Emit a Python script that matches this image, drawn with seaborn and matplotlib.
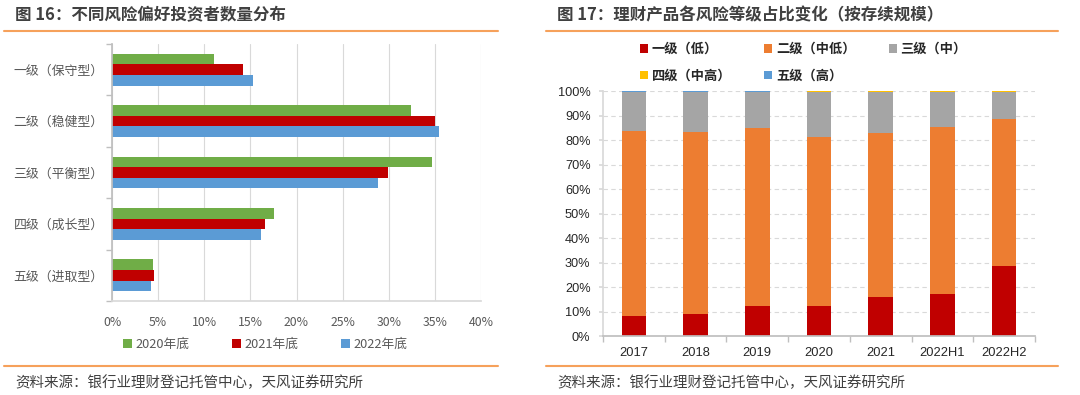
import numpy as np
import pandas as pd
import matplotlib.pyplot as plt
import seaborn as sns
from matplotlib.lines import Line2D
from matplotlib.patches import Patch

# left chart data (share of investors, %)
levels = ['一级（保守型）', '二级（稳健型）', '三级（平衡型）', '四级（成长型）', '五级（进取型）']
year_labels = ['2020年底', '2021年底', '2022年底']
share_2020 = [11.1, 32.4, 34.7, 17.6, 4.4]
share_2021 = [14.2, 35.0, 29.9, 16.6, 4.5]
share_2022 = [15.3, 35.5, 28.8, 16.2, 4.2]

# right chart data (share of outstanding scale, %)
periods = ['2017', '2018', '2019', '2020', '2021', '2022H1', '2022H2']
risk_names = ['一级（低）', '二级（中低）', '三级（中）', '四级（中高）', '五级（高）']
r1 = [8.4, 9.1, 12.5, 12.2, 16.1, 17.1, 28.5]
r2 = [75.4, 74.2, 72.5, 69.0, 66.8, 68.4, 60.2]
r3 = [15.9, 16.4, 14.7, 18.2, 16.5, 13.9, 10.8]
r4 = [0.0, 0.0, 0.0, 0.4, 0.4, 0.4, 0.3]
r5 = [0.3, 0.3, 0.3, 0.2, 0.2, 0.2, 0.2]

sns.set_theme(style='white')
plt.rcParams['font.family'] = ['Noto Sans CJK SC', 'DejaVu Sans']

fig = plt.figure(figsize=(10.8, 3.95), dpi=100)
W, H = 1080, 395

def fx(px):
    return px / W

def fy(py):
    return 1 - py / H

orange_line = '#F6A15B'
dark = '#404040'
grey_txt = '#595959'

# headers, rules and source notes
fig.text(fx(15), fy(15), '图 16：不同风险偏好投资者数量分布', fontsize=11.9, fontweight='bold',
         color=dark, va='center', ha='left')
fig.text(fx(557), fy(15), '图 17：理财产品各风险等级占比变化（按存续规模）', fontsize=11.9,
         fontweight='bold', color=dark, va='center', ha='left')
for x0, x1 in [(4, 498), (546, 1058)]:
    for yy in (31, 366):
        fig.add_artist(Line2D([fx(x0), fx(x1)], [fy(yy), fy(yy)], transform=fig.transFigure,
                              color=orange_line, lw=1.5))
fig.text(fx(15), fy(383), '资料来源：银行业理财登记托管中心，天风证券研究所', fontsize=10.45,
         color=dark, va='center', ha='left')
fig.text(fx(557), fy(383), '资料来源：银行业理财登记托管中心，天风证券研究所', fontsize=10.45,
         color=dark, va='center', ha='left')

# ---- left: horizontal grouped bars
df_left = pd.DataFrame({
    'level': levels * 3,
    'year': np.repeat(year_labels, len(levels)),
    'share': share_2020 + share_2021 + share_2022,
})
ax1 = fig.add_axes([fx(112), fy(301), fx(481) - fx(112), fy(44) - fy(301)])
sns.barplot(data=df_left, x='share', y='level', hue='year', orient='h',
            palette=['#70AD47', '#C00000', '#5B9BD5'], saturation=1, width=0.62,
            linewidth=0, ax=ax1)
ax1.set_xlim(0, 40)
ax1.set_ylim(4.5, -0.5)
ax1.set_xticks(np.arange(0, 41, 5))
ax1.set_xticklabels([f'{v}%' for v in range(0, 41, 5)])
ax1.set_xlabel('')
ax1.set_ylabel('')
ax1.xaxis.grid(True, color='#d9d9d9', lw=0.8)
ax1.set_axisbelow(True)
for s in ['top', 'right']:
    ax1.spines[s].set_visible(False)
ax1.spines['left'].set_color('#bfbfbf')
ax1.spines['bottom'].set_color('#d9d9d9')
ax1.set_yticks(np.arange(-0.5, 5, 1), minor=True)
ax1.tick_params(axis='y', which='major', length=0, pad=6, labelsize=9.3, labelcolor=grey_txt)
ax1.tick_params(axis='y', which='minor', length=4, color='#bfbfbf', left=True)
ax1.tick_params(axis='x', length=0, pad=11, labelsize=8.8, labelcolor=grey_txt)
handles, labels = ax1.get_legend_handles_labels()
ax1.legend_.remove()
fig.legend(handles, labels, loc='center', bbox_to_anchor=(fx(265), fy(344)), ncol=3,
           frameon=False, fontsize=9.2, labelcolor=grey_txt, handlelength=0.7,
           handleheight=0.7, handletextpad=0.3, columnspacing=3.3)

# ---- right: stacked columns (cumulative layers drawn from the top down)
layers = np.array([r1, r2, r3, r4, r5])
cum = np.cumsum(layers, axis=0)
colors = ['#C00000', '#ED7D31', '#A5A5A5', '#FFC000', '#5B9BD5']
ax2 = fig.add_axes([fx(603), fy(336.3), fx(1035) - fx(603), fy(91) - fy(336.3)])
for i in range(len(layers) - 1, -1, -1):
    sns.barplot(x=periods, y=cum[i], color=colors[i], width=0.4, linewidth=0,
                saturation=1, ax=ax2)
ax2.set_ylim(0, 100)
ax2.set_xlim(-0.5, len(periods) - 0.5)
ax2.set_yticks(np.arange(0, 101, 10))
ax2.set_yticklabels([f'{v}%' for v in range(0, 101, 10)], family=['Liberation Sans', 'DejaVu Sans'])
ax2.set_xticks(range(len(periods)))
ax2.set_xticklabels(periods, family=['Liberation Sans', 'DejaVu Sans'])
ax2.yaxis.grid(True, color='#d9d9d9', lw=0.8, ls=(0, (4, 3)))
ax2.set_axisbelow(True)
for s in ['top', 'right']:
    ax2.spines[s].set_visible(False)
ax2.spines['left'].set_color('#d9d9d9')
ax2.spines['bottom'].set_color('#bfbfbf')
ax2.set_xticks(np.arange(-0.5, len(periods), 1), minor=True)
ax2.tick_params(axis='x', which='major', length=0, pad=8, labelsize=9.3, labelcolor='#262626')
ax2.tick_params(axis='x', which='minor', length=4, color='#bfbfbf', bottom=True)
ax2.tick_params(axis='y', length=3, color='#d9d9d9', left=True, pad=6, labelsize=9.2,
                labelcolor='#262626')

patches = [Patch(facecolor=c, edgecolor='none') for c in colors]
order = [0, 3, 1, 4, 2]
leg = fig.legend([patches[i] for i in order], [risk_names[i] for i in order],
                 loc='upper left', bbox_to_anchor=(fx(640), fy(42)), ncol=3, frameon=False,
                 fontsize=9.5, handlelength=0.6, handleheight=0.6, handletextpad=0.3,
                 columnspacing=2.5, labelspacing=0.95, borderaxespad=0, borderpad=0)
for t in leg.get_texts():
    t.set_fontweight('bold')
    t.set_color('#262626')

fig.savefig('out.png', dpi=100)
